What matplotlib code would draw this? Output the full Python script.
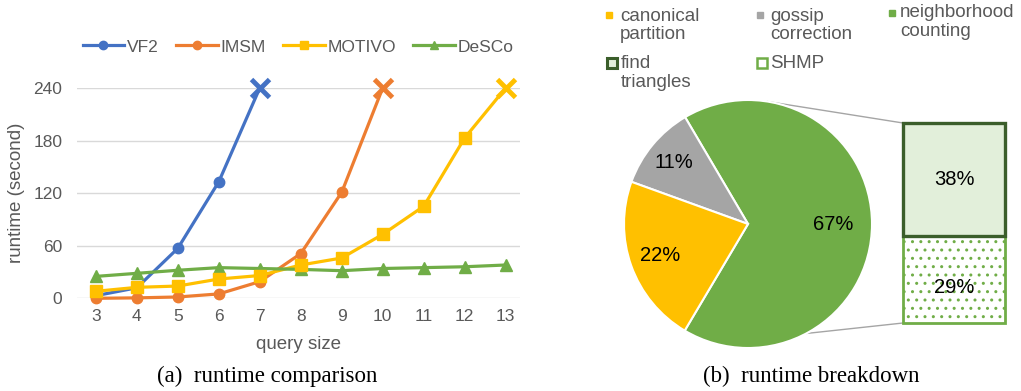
import matplotlib
matplotlib.use("Agg")
import matplotlib.pyplot as plt
import numpy as np

# ---------------- data ----------------
query_sizes = [3, 4, 5, 6, 7, 8, 9, 10, 11, 12, 13]
vf2 = [3, 12, 57, 133, 240]                     # sizes 3..7 (last = timeout)
imsm = [0, 0.5, 1.5, 5, 19, 51, 121, 240]       # sizes 3..10 (last = timeout)
motivo = [8, 12.5, 14, 22, 26, 38, 46, 73, 105, 183, 240]  # sizes 3..13
desco = [25, 28.5, 32, 35, 34, 33, 31.5, 34, 35, 36, 38]   # sizes 3..13
y_ticks = [0, 60, 120, 180, 240]

pie_labels = ["neighborhood counting", "gossip correction", "canonical partition"]
pie_values = [67, 11, 22]
bar_labels = ["SHMP", "find triangles"]
bar_values = [29, 38]

GREY_TXT = "#595959"
C_BLUE, C_ORANGE, C_YELLOW, C_GREEN, C_GREY = "#4472C4", "#ED7D31", "#FFC000", "#70AD47", "#A5A5A5"
C_DARKGREEN, C_LIGHTGREEN = "#3B5E2B", "#E2EFDA"

plt.rcParams["font.family"] = ["Liberation Sans", "DejaVu Sans"]

W, H = 1021, 391
fig = plt.figure(figsize=(W / 100, H / 100), dpi=100)

# ---------------- left: line chart ----------------
ax = fig.add_axes([77 / W, (H - 298.3) / H, 443 / W, (298.3 - 88) / H])
series = [("VF2", vf2, C_BLUE, "o", 7.5),
          ("IMSM", imsm, C_ORANGE, "o", 7.5),
          ("MOTIVO", motivo, C_YELLOW, "s", 8),
          ("DeSCo", desco, C_GREEN, "^", 8)]
for name, vals, col, mk, ms in series:
    xs = query_sizes[:len(vals)]
    timeout = name != "DeSCo"
    if timeout:
        ax.plot(xs, vals, color=col, lw=2.3, zorder=3, clip_on=False)
        ax.plot(xs[:-1], vals[:-1], ls="none", marker=mk, ms=ms, color=col, zorder=4, clip_on=False)
        ax.plot(xs[-1:], vals[-1:], ls="none", marker="x", ms=13, mew=3.5, color=col, zorder=4, clip_on=False)
    else:
        ax.plot(xs, vals, color=col, lw=2.3, marker=mk, ms=ms, zorder=3, clip_on=False)
    ax.plot([], [], color=col, lw=2.3, marker=mk, ms=6, label=name)

ax.set_xlim(2.54, 13.35)
ax.set_ylim(0, 240)
ax.set_xticks(query_sizes)
ax.set_yticks(y_ticks)
ax.grid(axis="y", color="#D9D9D9", lw=1)
ax.set_axisbelow(True)
for s in ax.spines.values():
    s.set_visible(False)
ax.tick_params(length=0, labelsize=12.5, labelcolor=GREY_TXT)
ax.tick_params(axis="x", pad=7.5)
ax.tick_params(axis="y", pad=10.5)
ax.set_xlabel("query size", fontsize=13.5, color=GREY_TXT, labelpad=9)
ax.set_ylabel("runtime (second)", fontsize=13.5, color=GREY_TXT)
ax.yaxis.set_label_coords(-0.117, 0.5)
ax.legend(loc="center", bbox_to_anchor=((298 - 77) / 443, (298.3 - 47) / (298.3 - 88)),
          ncol=4, frameon=False, fontsize=12.5, labelcolor=GREY_TXT,
          handlelength=2.4, handletextpad=0.15, columnspacing=1.0)

# ---------------- right: bar of pie ----------------
ov = fig.add_axes([0, 0, 1, 1])
cx, cy, R = 748, H - 224, 124
wedges, _ = ov.pie(pie_values, colors=[C_GREEN, C_GREY, C_YELLOW], startangle=239.3,
                   counterclock=True, center=(cx, cy), radius=R,
                   wedgeprops=dict(edgecolor="white", linewidth=1.5))
for w in wedges:
    w.set_zorder(3)
ov.set_aspect("auto")
ov.set_xlim(0, W)
ov.set_ylim(0, H)
ov.axis("off")

radial = [0.69, 0.78, 0.75]
for w, v, rf in zip(wedges, pie_values, radial):
    th = np.deg2rad((w.theta1 + w.theta2) / 2)
    ov.text(cx + rf * R * np.cos(th), cy + rf * R * np.sin(th), f"{v}%",
            ha="center", va="center", fontsize=14.5, color="black", zorder=5)

# connector lines
bx0, bx1, by0, by1 = 903, 1005, H - 323, H - 123
for ang, (tx, ty) in [(81, (bx0, by1)), (-62, (bx0, by0))]:
    a = np.deg2rad(ang)
    ov.plot([cx + R * np.cos(a), tx], [cy + R * np.sin(a), ty], color=C_GREY, lw=1, zorder=1)

# stacked bar
bax = fig.add_axes([bx0 / W, by0 / H, (bx1 - bx0) / W, (by1 - by0) / H])
bax.bar([0], [bar_values[0]], width=1, color="white", edgecolor=C_GREEN, hatch="..",
        linewidth=2, clip_on=False)
bax.bar([0], [bar_values[1]], bottom=[bar_values[0]], width=1, color=C_LIGHTGREEN,
        edgecolor=C_DARKGREEN, linewidth=2.4, clip_on=False)
bax.set_xlim(-0.5, 0.5)
bax.set_ylim(0, sum(bar_values))
bax.axis("off")
bax.text(0, bar_values[0] / 2 - 2.5, f"{bar_values[0]}%", ha="center", va="center", fontsize=14.5)
bax.text(0, bar_values[0] + bar_values[1] / 2, f"{bar_values[1]}%", ha="center", va="center", fontsize=14.5)

# legend for pie (manual)
leg_items = [
    (609, 15, dict(marker="s", ms=5, mfc=C_YELLOW, mec=C_YELLOW), 620, ["canonical", "partition"], [20.7, 39.3]),
    (760, 15, dict(marker="s", ms=5, mfc=C_GREY, mec=C_GREY), 770, ["gossip", "correction"], [20.7, 39.3]),
    (892, 13, dict(marker="s", ms=5, mfc=C_GREEN, mec=C_GREEN), 900, ["neighborhood", "counting"], [17.3, 36.3]),
    (612, 63, dict(marker="s", ms=7, mfc=C_LIGHTGREEN, mec=C_DARKGREEN, mew=2.2), 621, ["find", "triangles"], [68.3, 86.7]),
    (762, 63, dict(marker="s", ms=7, mfc="white", mec=C_GREEN, mew=1.8), 770, ["SHMP"], [68.3]),
]
for mx, my, mkw, tx, lines, bls in leg_items:
    ov.plot([mx], [H - my], ls="none", **mkw)
    for ln, bl in zip(lines, bls):
        ov.text(tx, H - bl, ln, ha="left", va="baseline", fontsize=13.5, color=GREY_TXT)

# captions
ov.text(267, H - 376, "(a)  runtime comparison", ha="center", va="center",
        fontsize=16.5, family=["Liberation Serif", "DejaVu Serif"])
ov.text(811, H - 376, "(b)  runtime breakdown", ha="center", va="center",
        fontsize=16.5, family=["Liberation Serif", "DejaVu Serif"])

fig.savefig("out.png", dpi=100)
